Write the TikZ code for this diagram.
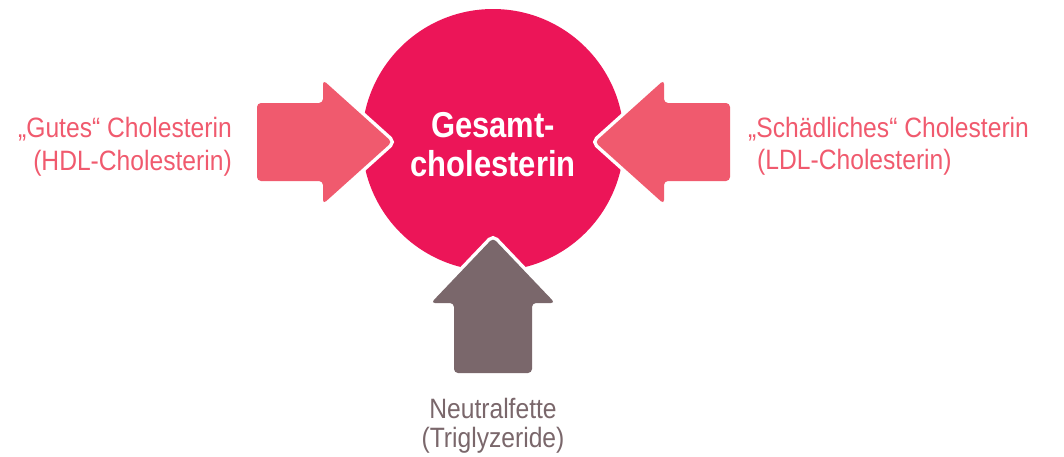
\documentclass[tikz,border=0pt]{standalone}
\usepackage{fontspec}
\setmainfont{Liberation Sans}
\newfontfamily\lblfont{Liberation Sans}[FakeStretch=0.88]
\newfontfamily\ttlfont{Liberation Sans Bold}[FakeStretch=0.86]
\definecolor{circ}{RGB}{236,21,88}
\definecolor{pinkarrow}{RGB}{240,90,110}
\definecolor{taupe}{RGB}{122,103,107}
\tikzset{
  arrowshape/.style={rounded corners=4pt, preaction={draw=white, line width=7pt}},
  lbl/.style={inner sep=0pt, font=\lblfont\fontsize{28}{32}\selectfont},
  ttl/.style={inner sep=0pt, text=white, font=\ttlfont\fontsize{36}{39}\selectfont, anchor=base},
}
\begin{document}
\begin{tikzpicture}[x=1pt,y=-1pt]
\useasboundingbox (0,0) rectangle (1064,456);
% central circle
\node[circle, fill=circ, minimum size=262pt, inner sep=0pt] (c) at (493,140) {};
% left arrow
\path[arrowshape, fill=pinkarrow] (257,142) -- (257,103) -- (323,103) -- (323,80) -- (392,142) -- (323,204) -- (323,181) -- (257,181) -- cycle;
% right arrow
\path[arrowshape, fill=pinkarrow] (730,142) -- (730,103) -- (664,103) -- (664,80) -- (595,142) -- (664,204) -- (664,181) -- (730,181) -- cycle;
% bottom arrow
\path[arrowshape, fill=taupe] (493,373) -- (454,373) -- (454,303) -- (431,303) -- (493,238) -- (555,303) -- (532,303) -- (532,373) -- cycle;
% texts
\node[ttl] (t1) at (493,137) {Gesamt-};
\node[ttl] (t2) at (493,176) {cholesterin};
\node[lbl, text=pinkarrow, anchor=base east] (g1) at (232,137) {„Gutes“ Cholesterin};
\node[lbl, text=pinkarrow, anchor=base east] (g2) at (232,170) {(HDL-Cholesterin)};
\node[lbl, text=pinkarrow, anchor=base west] (s1) at (748,137) {„Schädliches“ Cholesterin};
\node[lbl, text=pinkarrow, anchor=base west] (s2) at (757,169) {(LDL-Cholesterin)};
\node[lbl, text=taupe, anchor=base] (n1) at (493,418) {Neutralfette};
\node[lbl, text=taupe, anchor=base] (n2) at (493,447) {(Triglyzeride)};
\end{tikzpicture}
\end{document}
